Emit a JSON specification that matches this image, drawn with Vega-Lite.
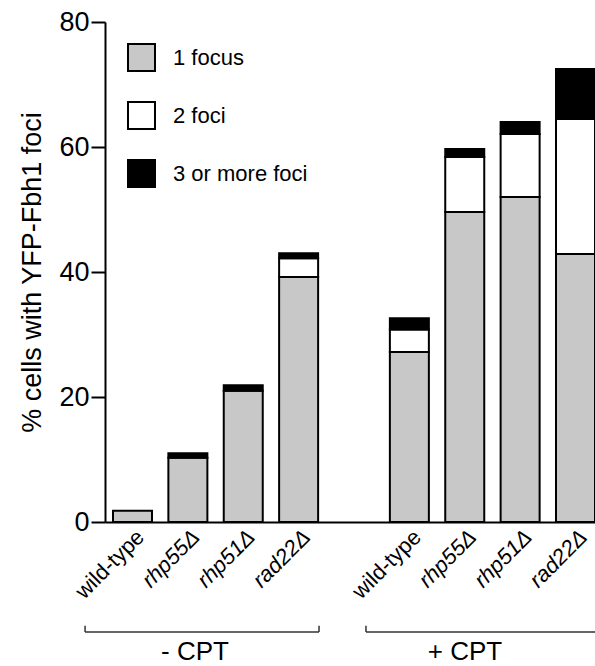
{
  "$schema": "https://vega.github.io/schema/vega-lite/v6.json",
  "autosize": {"type": "none"},
  "padding": {"left": 105, "top": 22, "right": 0, "bottom": 144},
  "width": 490,
  "height": 500,
  "config": {
    "font": "Liberation Sans",
    "view": {"stroke": null},
    "axis": {"grid": false}
  },
  "datasets": {
    "bars": [
      {"slot": "-CPT|wild-type", "foci": "1 focus", "percent": 1.8},
      {"slot": "-CPT|rhp55Δ", "foci": "1 focus", "percent": 10.3},
      {"slot": "-CPT|rhp55Δ", "foci": "3 or more foci", "percent": 0.7},
      {"slot": "-CPT|rhp51Δ", "foci": "1 focus", "percent": 21.0},
      {"slot": "-CPT|rhp51Δ", "foci": "3 or more foci", "percent": 0.9},
      {"slot": "-CPT|rad22Δ", "foci": "1 focus", "percent": 39.2},
      {"slot": "-CPT|rad22Δ", "foci": "2 foci", "percent": 3.0},
      {"slot": "-CPT|rad22Δ", "foci": "3 or more foci", "percent": 0.8},
      {"slot": "+CPT|wild-type", "foci": "1 focus", "percent": 27.2},
      {"slot": "+CPT|wild-type", "foci": "2 foci", "percent": 3.6},
      {"slot": "+CPT|wild-type", "foci": "3 or more foci", "percent": 1.8},
      {"slot": "+CPT|rhp55Δ", "foci": "1 focus", "percent": 49.6},
      {"slot": "+CPT|rhp55Δ", "foci": "2 foci", "percent": 8.8},
      {"slot": "+CPT|rhp55Δ", "foci": "3 or more foci", "percent": 1.3},
      {"slot": "+CPT|rhp51Δ", "foci": "1 focus", "percent": 52.0},
      {"slot": "+CPT|rhp51Δ", "foci": "2 foci", "percent": 10.1},
      {"slot": "+CPT|rhp51Δ", "foci": "3 or more foci", "percent": 1.9},
      {"slot": "+CPT|rad22Δ", "foci": "1 focus", "percent": 42.9},
      {"slot": "+CPT|rad22Δ", "foci": "2 foci", "percent": 21.6},
      {"slot": "+CPT|rad22Δ", "foci": "3 or more foci", "percent": 8.0}
    ],
    "groups": [
      {"group": "- CPT", "from": -0.36, "to": 3.865, "mid": 1.625},
      {"group": "+ CPT", "from": 4.713, "to": 9.3, "mid": 6.5}
    ]
  },
  "resolve": {"scale": {"x": "independent"}},
  "layer": [
    {
      "data": {"name": "bars"},
      "mark": {"type": "bar", "stroke": "black", "strokeWidth": 2},
      "encoding": {
        "x": {
          "field": "slot",
          "type": "nominal",
          "sort": null,
          "scale": {
            "domain": ["-CPT|wild-type", "-CPT|rhp55Δ", "-CPT|rhp51Δ", "-CPT|rad22Δ", "gap|", "+CPT|wild-type", "+CPT|rhp55Δ", "+CPT|rhp51Δ", "+CPT|rad22Δ"],
            "paddingInner": 0.2957,
            "paddingOuter": 0.0722,
            "align": 1
          },
          "axis": {
            "title": null,
            "labelExpr": "split(datum.label, '|')[1]",
            "labelAngle": -45,
            "labelFontSize": 22,
            "labelColor": "black",
            "labelPadding": 4,
            "labelOffset": 1,
            "labelFontStyle": {"condition": {"test": "indexof(datum.value, 'wild') >= 0", "value": "normal"}, "value": "italic"},
            "ticks": false,
            "domainColor": "black",
            "domainWidth": 2
          }
        },
        "y": {
          "field": "percent",
          "type": "quantitative",
          "stack": "zero",
          "scale": {"domain": [0, 80], "nice": false},
          "axis": {
            "title": "% cells with YFP-Fbh1 foci",
            "titleFontSize": 27,
            "titleFontWeight": "normal",
            "titleColor": "black",
            "titlePadding": 12,
            "values": [0, 20, 40, 60, 80],
            "labelFontSize": 27,
            "labelColor": "black",
            "labelPadding": 2,
            "tickSize": 14,
            "tickWidth": 2,
            "tickColor": "black",
            "domainColor": "black",
            "domainWidth": 2
          }
        },
        "color": {
          "field": "foci",
          "type": "nominal",
          "scale": {"domain": ["1 focus", "2 foci", "3 or more foci"], "range": ["#c8c8c8", "#ffffff", "#000000"]},
          "legend": {
            "title": null,
            "orient": "none",
            "legendX": 22,
            "legendY": 21,
            "padding": 0,
            "symbolType": "square",
            "symbolSize": 729,
            "symbolStrokeColor": "black",
            "symbolStrokeWidth": 2,
            "labelFontSize": 22,
            "labelColor": "black",
            "labelOffset": 17,
            "rowPadding": 23
          }
        },
        "order": {"field": "foci", "sort": "ascending"}
      }
    },
    {
      "data": {"name": "groups"},
      "mark": {"type": "rule", "stroke": "#333333", "strokeWidth": 1.5},
      "encoding": {
        "x": {"field": "from", "type": "quantitative", "scale": {"domain": [0, 8.849], "nice": false, "zero": false}, "axis": null},
        "x2": {"field": "to"},
        "y": {"datum": -17.6}
      }
    },
    {
      "data": {"name": "groups"},
      "mark": {"type": "rule", "stroke": "#333333", "strokeWidth": 1.5},
      "encoding": {
        "x": {"field": "from", "type": "quantitative", "scale": {"domain": [0, 8.849], "nice": false, "zero": false}, "axis": null},
        "y": {"datum": -17.6},
        "y2": {"datum": -16.6}
      }
    },
    {
      "data": {"name": "groups"},
      "mark": {"type": "rule", "stroke": "#333333", "strokeWidth": 1.5},
      "encoding": {
        "x": {"field": "to", "type": "quantitative", "scale": {"domain": [0, 8.849], "nice": false, "zero": false}, "axis": null},
        "y": {"datum": -17.6},
        "y2": {"datum": -16.6}
      }
    },
    {
      "data": {"name": "groups"},
      "mark": {"type": "text", "fontSize": 26, "baseline": "alphabetic", "align": "center", "color": "black"},
      "encoding": {
        "x": {"field": "mid", "type": "quantitative", "scale": {"domain": [0, 8.849], "nice": false, "zero": false}, "axis": null},
        "y": {"datum": -22.1},
        "text": {"field": "group"}
      }
    }
  ]
}
